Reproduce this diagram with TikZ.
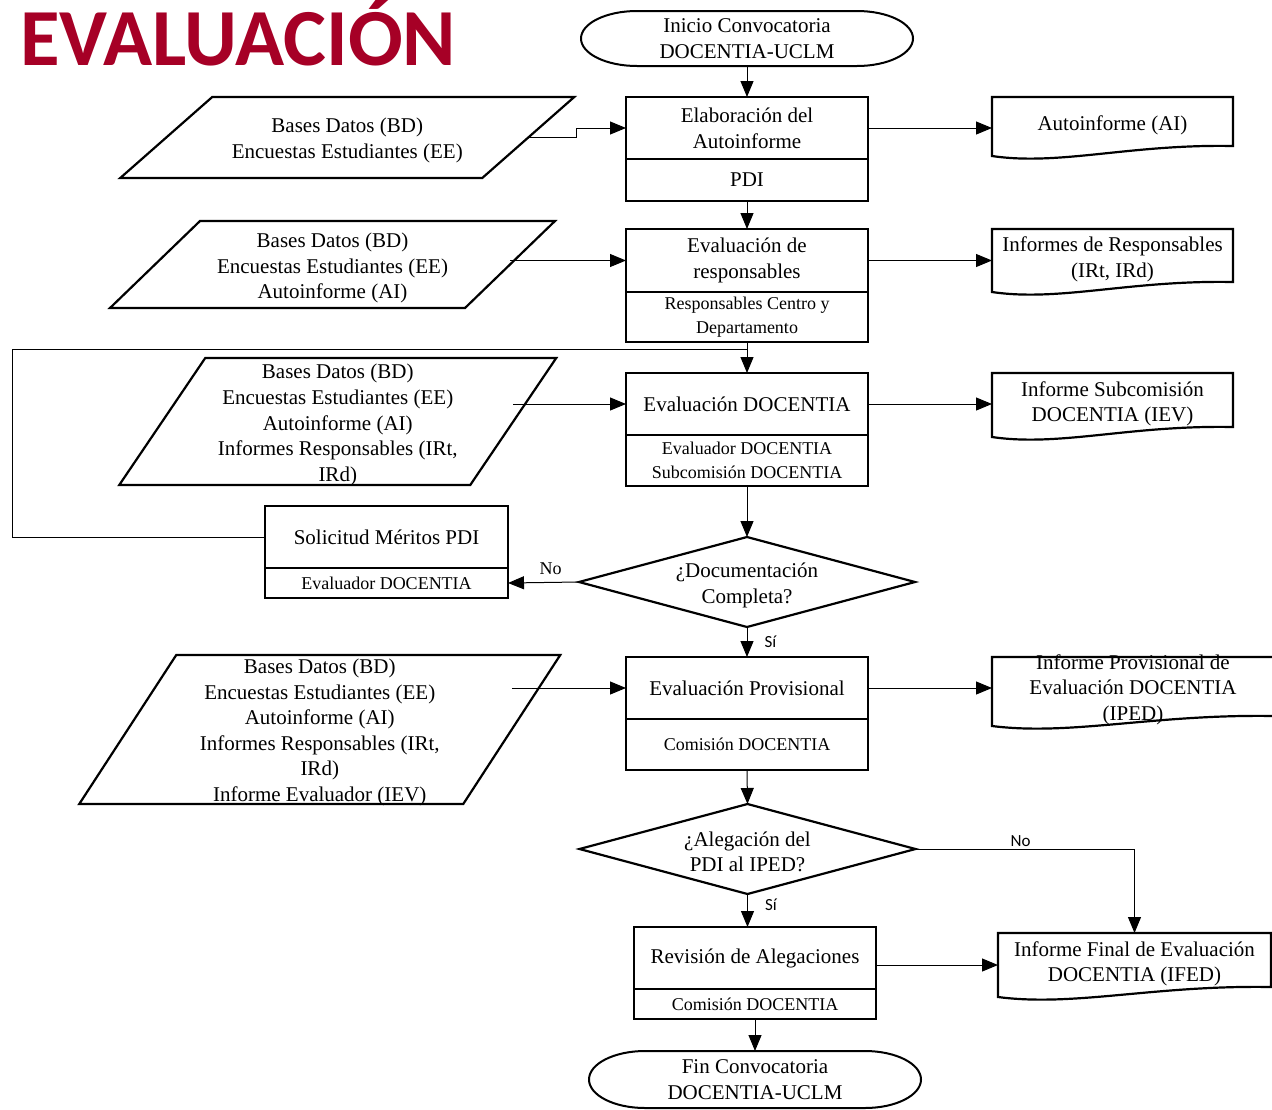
\documentclass[tikz,border=0pt]{standalone}
\usepackage{fontspec}
\setmainfont{Liberation Serif}
\newfontfamily\titlefont{Carlito}
\newfontfamily\labelfont{Carlito}
\usetikzlibrary{arrows.meta,positioning,shapes.geometric,calc}
\definecolor{titlered}{RGB}{166,0,38}

\newcommand{\docoutline}[1]{%
  \draw[line width=2.2pt] (#1.north west) -- (#1.north east) -- (#1.south east)
    .. controls ($(#1.south west)!0.57!(#1.south east)+(0,-2)$) and ($(#1.south west)!0.28!(#1.south east)+(0,20)$)
    .. ($(#1.south west)+(0,10)$) -- cycle;}
\newcommand{\iooutline}[2]{%
  \draw[line width=2.2pt] ([xshift=-#2pt/2]#1.south west) -- ([xshift=#2pt/2]#1.north west)
    -- ([xshift=#2pt/2]#1.north east) -- ([xshift=-#2pt/2]#1.south east) -- cycle;}
\newcommand{\termoutline}[2]{%
  \draw[line width=2pt] ([xshift=56pt]#1.north west) -- ([xshift=-56pt]#1.north east)
    arc[start angle=90, end angle=-90, x radius=56pt, y radius=#2pt/2]
    -- ([xshift=56pt]#1.south west)
    arc[start angle=270, end angle=90, x radius=56pt, y radius=#2pt/2] -- cycle;}

\begin{document}
\begin{tikzpicture}[x=1pt, y=-1pt,
    box/.style={draw, line width=2.2pt, minimum width=242pt, inner sep=2pt, outer sep=0pt, align=center, font=\fontsize{21}{25.6}\selectfont},
    subbox/.style={box, font=\fontsize{18}{23.5}\selectfont},
    term/.style={minimum width=332pt, minimum height=55pt, inner sep=0pt, outer sep=0pt, align=center, font=\fontsize{21}{25.6}\selectfont},
    iobox/.style={inner sep=0pt, outer sep=0pt},
    iotext/.style={align=center, inner sep=0pt, font=\fontsize{21}{25.6}\selectfont},
    docbox/.style={inner sep=0pt, outer sep=0pt},
    doctext/.style={align=center, inner sep=0pt, font=\fontsize{21}{25.6}\selectfont},
    decision/.style={draw, diamond, aspect=3.7, line width=2.2pt, minimum width=336pt, minimum height=90pt, inner sep=0pt, outer sep=0pt},
    dectext/.style={align=center, inner sep=0pt, font=\fontsize{21}{25.6}\selectfont},
    conn/.style={line width=1pt},
    arr/.style={conn, -{Triangle[length=16pt, width=13pt]}},
    yesno/.style={font=\labelfont\fontsize{17}{17}\selectfont, inner sep=1pt}
  ]
  \clip (0,0) rectangle (1272,1109);
  \fill[white] (0,0) rectangle (1272,1109);

  \node[anchor=base west, text=titlered, inner sep=0pt, font=\titlefont\bfseries\fontsize{81}{81}\selectfont] (title) at (20,65) {EVALUACIÓN};

  % main column
  \node[term] (start) at (747,38.5) {Inicio Convocatoria\\DOCENTIA-UCLM};
  \termoutline{start}{55}
  \node[box, minimum height=62pt] (b1) at (747,128) {Elaboración del\\Autoinforme};
  \node[box, minimum height=42pt, below=0pt of b1] (b1s) {PDI};
  \node[box, minimum height=63pt] (b2) at (747,260.5) {Evaluación de\\responsables};
  \node[subbox, minimum height=50pt, below=0pt of b2] (b2s) {Responsables Centro y\\Departamento};
  \node[box, minimum height=62pt] (b3) at (747,404) {Evaluación DOCENTIA};
  \node[subbox, minimum height=51pt, below=0pt of b3] (b3s) {Evaluador DOCENTIA\\Subcomisión DOCENTIA};
  \node[decision] (q1) at (747,582) {};
  \node[dectext] (q1t) at ([yshift=-3.5pt]q1.center) {¿Documentación\\Completa?};
  \node[box, minimum width=243pt, minimum height=62pt] (sol) at (386.5,537) {Solicitud Méritos PDI};
  \node[subbox, minimum width=243pt, minimum height=30pt, below=0pt of sol] (sols) {Evaluador DOCENTIA};
  \node[box, minimum height=62pt] (b4) at (747,688) {Evaluación Provisional};
  \node[subbox, minimum height=51pt, below=0pt of b4] (b4s) {Comisión DOCENTIA};
  \node[decision] (q2) at (747.5,849) {};
  \node[dectext] (q2t) at ([yshift=-3pt]q2.center) {¿Alegación del\\PDI al IPED?};
  \node[box, minimum height=62pt] (b5) at (755,958) {Revisión de Alegaciones};
  \node[subbox, minimum height=30pt, below=0pt of b5] (b5s) {Comisión DOCENTIA};
  \node[term, minimum height=57pt] (end) at (755,1079.5) {Fin Convocatoria\\DOCENTIA-UCLM};
  \termoutline{end}{57}

  % inputs
  \node[iobox, minimum width=362pt, minimum height=81pt] (p1) at (347.25,137.5) {};
  \node[iotext] (p1t) at ([yshift=-3pt]p1.center) {Bases Datos (BD)\\Encuestas Estudiantes (EE)};
  \node[iobox, minimum width=355pt, minimum height=87pt] (p2) at (332.5,264.5) {};
  \node[iotext] (p2t) at ([yshift=-3.5pt]p2.center) {Bases Datos (BD)\\Encuestas Estudiantes (EE)\\Autoinforme (AI)};
  \node[iobox, minimum width=351pt, minimum height=127pt] (p3) at (337.75,421.5) {};
  \node[iotext] (p3t) at ([yshift=-3.5pt]p3.center) {Bases Datos (BD)\\Encuestas Estudiantes (EE)\\Autoinforme (AI)\\Informes Responsables (IRt,\\IRd)};
  \node[iobox, minimum width=384pt, minimum height=149pt] (p4) at (319.75,729.5) {};
  \node[iotext] (p4t) at ([yshift=-3pt]p4.center) {Bases Datos (BD)\\Encuestas Estudiantes (EE)\\Autoinforme (AI)\\Informes Responsables (IRt,\\IRd)\\Informe Evaluador (IEV)};
  \iooutline{p1}{92}
  \iooutline{p2}{90}
  \iooutline{p3}{86}
  \iooutline{p4}{97}

  % outputs
  \node[docbox, minimum width=241pt, minimum height=49pt] (d1) at (1112.5,121.5) {};
  \node[doctext] (d1t) at ([yshift=-4pt]d1.center) {Autoinforme (AI)};
  \node[docbox, minimum width=241pt, minimum height=53pt] (d2) at (1112.5,255.5) {};
  \node[doctext] (d2t) at ([yshift=-4pt]d2.center) {Informes de Responsables\\(IRt, IRd)};
  \node[docbox, minimum width=241pt, minimum height=54pt] (d3) at (1112.5,400) {};
  \node[doctext] (d3t) at ([yshift=-4pt]d3.center) {Informe Subcomisión\\DOCENTIA (IEV)};
  \node[docbox, minimum width=282pt, minimum height=59pt] (d4) at (1133,686.5) {};
  \node[doctext] (d4t) at ([yshift=-3pt]d4.center) {Informe Provisional de\\Evaluación DOCENTIA\\(IPED)};
  \node[docbox, minimum width=273pt, minimum height=54pt] (d5) at (1134.5,960) {};
  \node[doctext] (d5t) at ([yshift=-4pt]d5.center) {Informe Final de Evaluación\\DOCENTIA (IFED)};
  \docoutline{d1}
  \docoutline{d2}
  \docoutline{d3}
  \docoutline{d4}
  \docoutline{d5}

  \coordinate (loopjoin) at ($(b2s.south)!0.25!(b3.north)$);

  \draw[arr] (start.south) -- (b1.north);
  \draw[arr] (b1s.south) -- (b2.north);
  \draw[arr] (b2s.south) -- (b3.north);
  \draw[arr] (b3s.south) -- (q1.north);
  \draw[arr] (q1.south) -- node[yesno, right=16pt] {Sí} (b4.north);
  \draw[arr] (b4s.south) -- (q2.north);
  \draw[arr] (q2.south) -- node[yesno, right=16pt, pos=0.33] {Sí} (q2.south |- b5.north);
  \draw[arr] (b5s.south) -- (end.north);
  \draw[arr] (q1.west) -- node[above=6pt, pos=0.4, inner sep=1pt, font=\fontsize{18}{18}\selectfont] {No} (sols.east);
  \draw[conn] (sol.west) -- ++(-253,0) |- (loopjoin);
  \draw[arr] (q2.east) -| node[yesno, above=1pt, pos=0.24] {No} (d5.north);

  \draw[arr] (b1.east) -- (b1.east -| d1.west);
  \draw[arr] (b2.east) -- (b2.east -| d2.west);
  \draw[arr] (b3.east) -- (b3.east -| d3.west);
  \draw[arr] (b4.east) -- (b4.east -| d4.west);
  \draw[arr] ([yshift=-7pt]b5.east) -- ([yshift=-7pt]b5.east -| d5.west);

  \draw[arr] (p1.east) -- ++(48,0) |- (b1.west);
  \draw[arr] (p2.east |- b2.west) -- (b2.west);
  \draw[arr] (p3.east |- b3.west) -- (b3.west);
  \draw[arr] (p4.east |- b4.west) -- (b4.west);
\end{tikzpicture}
\end{document}
